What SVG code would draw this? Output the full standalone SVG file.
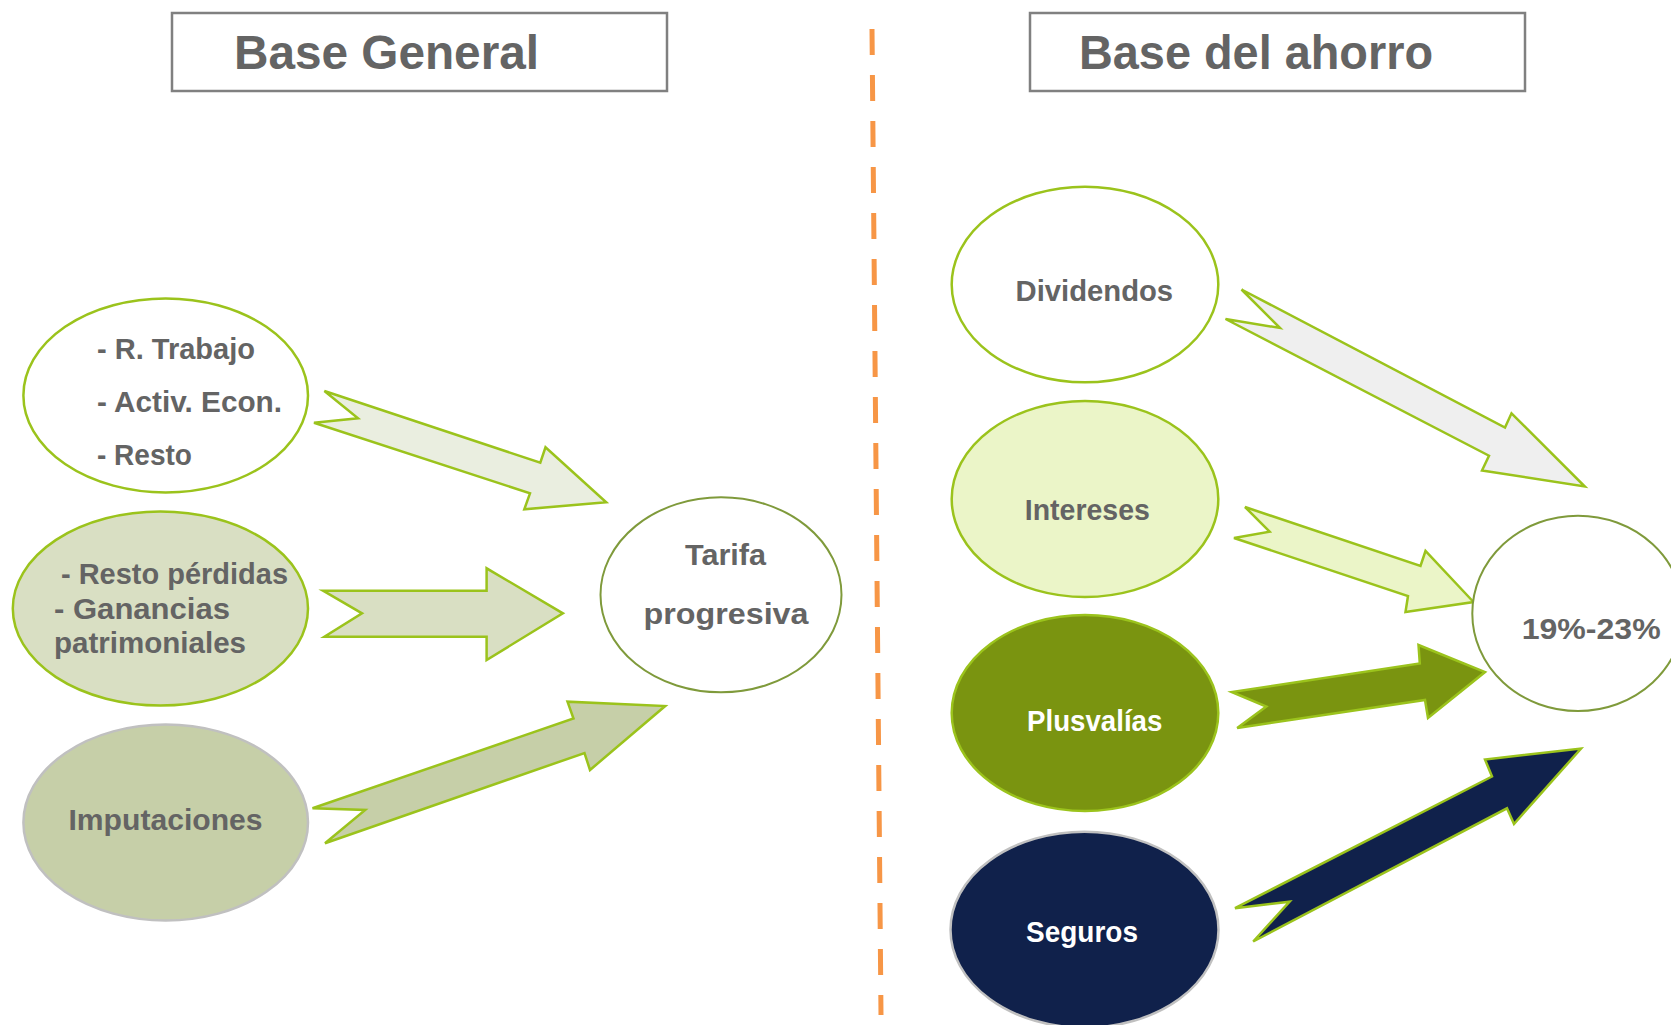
<svg xmlns="http://www.w3.org/2000/svg" width="1671" height="1025" viewBox="0 0 1671 1025">
<style>
text{font-family:"Liberation Sans",Arial,sans-serif;font-weight:bold;fill:#646464}
.t{font-size:29px}
.title{font-size:48px}
.w{fill:#ffffff}
.ygs{stroke:#9BC31C;stroke-width:2.5}
.ols{stroke:#7F9A3B;stroke-width:2}
.grs{stroke:#C0C0C0;stroke-width:2.5}
.box{fill:#ffffff;stroke:#808080;stroke-width:2.5}
.arr{stroke:#9BC31C;stroke-width:2.5;stroke-linejoin:miter}
</style>
<rect width="1671" height="1025" fill="#ffffff"/>

<g id="title-general">
<rect class="box" x="172" y="13" width="495" height="78"/>
<text class="title" x="234" y="69" textLength="305" lengthAdjust="spacingAndGlyphs">Base General</text>
</g>
<g id="title-ahorro">
<rect class="box" x="1030" y="13" width="495" height="78"/>
<text class="title" x="1079" y="69" textLength="354" lengthAdjust="spacingAndGlyphs">Base del ahorro</text>
</g>

<g id="divider">
<line x1="872" y1="29" x2="881" y2="1015" stroke="#F79646" stroke-width="5" stroke-dasharray="26 20"/>
</g>

<g id="connectors">
<polygon class="arr" fill="#EAEEE0" points="324.4,391 358,418.3 314,422.7 530,493.3 524.3,509.3 606.2,502.3 545.5,447.3 540.3,462.7"/>
<polygon class="arr" fill="#D9DFC3" points="323,590.7 362,613.3 324.4,636.7 486.6,636.7 486.6,660 562.9,613.3 486.6,568.3 486.6,590.7"/>
<polygon class="arr" fill="#C6CFA8" points="312.5,808.3 365.2,810 325,843.3 584.5,753 590,770 665.2,706 567.5,701.7 573.5,718.5"/>
<polygon class="arr" fill="#EFEFEF" points="1241.5,289.5 1280,328 1225.5,319 1489,455.7 1482,470.5 1584.8,486.5 1511.5,413.3 1505,427.5"/>
<polygon class="arr" fill="#EBF5C8" points="1245,507 1269.6,531.7 1234,538 1408,596 1405.5,612 1473.5,602 1425.5,551 1420.5,566"/>
<polygon class="arr" fill="#7A9410" points="1231.8,692 1266.3,706.5 1237.2,728 1425,700 1428,718 1485,672 1418.5,645 1419.8,663.5"/>
<polygon class="arr" fill="#10214B" points="1235,908.2 1289.6,901.7 1253.2,941.5 1507,808.3 1514,824 1581,748.5 1485,759.5 1492,776.5"/>
</g>

<g id="node-rendimientos">
<ellipse class="w ygs" cx="165.7" cy="395.4" rx="142.3" ry="97"/>
<text class="t" x="97" y="359" textLength="158" lengthAdjust="spacingAndGlyphs">- R. Trabajo</text>
<text class="t" x="97" y="412" textLength="185" lengthAdjust="spacingAndGlyphs">- Activ. Econ.</text>
<text class="t" x="97" y="465" textLength="95" lengthAdjust="spacingAndGlyphs">- Resto</text>
</g>

<g id="node-ganancias">
<ellipse class="ygs" fill="#D9DFC3" cx="160.4" cy="608.5" rx="147.6" ry="97"/>
<text class="t" x="61" y="584" textLength="227" lengthAdjust="spacingAndGlyphs">- Resto pérdidas</text>
<text class="t" x="54" y="619" textLength="176" lengthAdjust="spacingAndGlyphs">- Ganancias</text>
<text class="t" x="54" y="653" textLength="192" lengthAdjust="spacingAndGlyphs">patrimoniales</text>
</g>

<g id="node-imputaciones">
<ellipse class="grs" fill="#C6CFA8" cx="165.7" cy="822.5" rx="142.3" ry="98"/>
<text class="t" x="68.5" y="829.5" textLength="194" lengthAdjust="spacingAndGlyphs">Imputaciones</text>
</g>

<g id="node-tarifa">
<ellipse class="w ols" cx="721" cy="594.8" rx="120.5" ry="97.5"/>
<text class="t" x="685" y="565" textLength="81" lengthAdjust="spacingAndGlyphs">Tarifa</text>
<text class="t" x="643.5" y="623.5" textLength="165" lengthAdjust="spacingAndGlyphs">progresiva</text>
</g>

<g id="node-dividendos">
<ellipse class="w ygs" cx="1085" cy="284.5" rx="133.3" ry="97.8"/>
<text class="t" x="1015.6" y="301" textLength="157.5" lengthAdjust="spacingAndGlyphs">Dividendos</text>
</g>

<g id="node-intereses">
<ellipse class="ygs" fill="#EBF5C8" cx="1085" cy="499" rx="133.3" ry="98"/>
<text class="t" x="1024.8" y="519.5" textLength="125" lengthAdjust="spacingAndGlyphs">Intereses</text>
</g>

<g id="node-plusvalias">
<ellipse class="ygs" fill="#7A9410" cx="1085" cy="713" rx="133.3" ry="98"/>
<text class="t" x="1027" y="730.7" textLength="135.4" lengthAdjust="spacingAndGlyphs" style="fill:#ffffff">Plusvalías</text>
</g>

<g id="node-seguros">
<ellipse class="grs" fill="#10214B" cx="1084.5" cy="929.7" rx="134" ry="98"/>
<text class="t" x="1026" y="941.7" textLength="112" lengthAdjust="spacingAndGlyphs" style="fill:#ffffff">Seguros</text>
</g>

<g id="node-tipo">
<ellipse class="w ols" cx="1578" cy="613.4" rx="105.7" ry="97.7"/>
<text class="t" x="1521.7" y="638.5" textLength="139" lengthAdjust="spacingAndGlyphs">19%-23%</text>
</g>
</svg>
